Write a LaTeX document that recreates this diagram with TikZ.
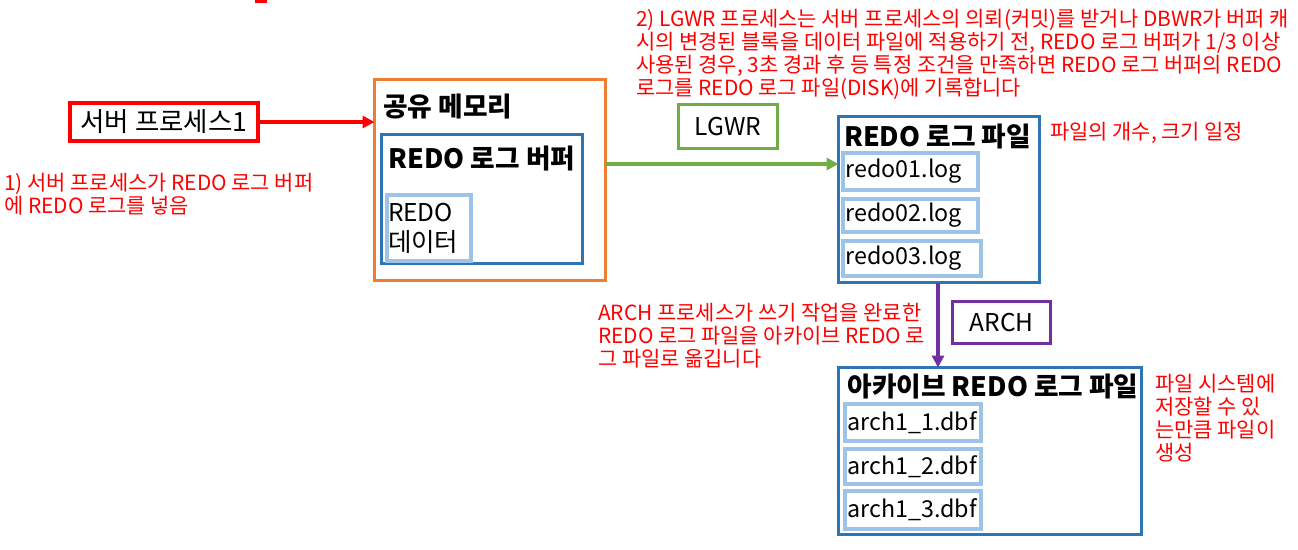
\documentclass[tikz,border=0pt]{standalone}
\usepackage{fontspec}
\setmainfont{Noto Sans CJK KR}
\usetikzlibrary{arrows.meta}
\definecolor{cred}{HTML}{FF0000}
\definecolor{corange}{HTML}{ED7D31}
\definecolor{cblue}{HTML}{2E75B6}
\definecolor{clblue}{HTML}{9DC3E6}
\definecolor{cgreen}{HTML}{70AD47}
\definecolor{cpurple}{HTML}{7030A0}
\begin{document}
\begin{tikzpicture}[x=1pt,y=-1pt,
  box/.style={draw=#1, fill=white, inner sep=0pt, outer sep=0pt},
  boxtext/.style={font=\fontsize{24.5}{30}\selectfont, text=black},
  krtext/.style={font=\fontsize{26.5}{30}\selectfont, text=black},
  fntext/.style={font=\fontsize{23.3}{30}\selectfont, text=black},
  title/.style={font=\fontsize{26.7}{30}\selectfont\bfseries, inner sep=0pt, text=black},
  note/.style={font=\fontsize{20.9}{23}\selectfont, text=cred, inner sep=0pt, align=left},
  filebox/.style={box=clblue, line width=4pt, fntext, inner xsep=2.5pt, align=left},
  arr/.style={line width=4pt, -{Triangle[length=12pt,width=12pt]}}
]
\useasboundingbox (0,0) rectangle (1298,549);
\fill[cred] (255,0) rectangle (267,2.5);

% server process
\node[box=cred, line width=4pt, krtext, minimum width=188pt, minimum height=38pt] (srv) at (164,122) {서버 프로세스1};

% shared memory
\node[box=corange, line width=3pt, minimum width=231pt, minimum height=201pt] (shm) at (490,180) {};
\node[title, anchor=west] (shmt) at (383,107) {공유 메모리};
\node[box=cblue, line width=3pt, minimum width=201pt, minimum height=129pt] (buf) at (482,199) {};
\node[title] (buft) at (482,159) {REDO 로그 버퍼};
\node[box=clblue, line width=4pt, boxtext, minimum width=84pt, minimum height=66pt, text width=82pt, inner xsep=1pt, align=left] (dat) at (429,228) {REDO\\{\fontsize{25.5}{30}\selectfont 데이터}};

% LGWR
\node[box=cgreen, line width=3pt, boxtext, minimum width=99pt, minimum height=44pt] (lgwr) at (728,126.5) {LGWR};

% redo log file
\node[box=cblue, line width=3pt, minimum width=201pt, minimum height=166pt] (rf) at (939,199.5) {};
\node[title] (rft) at (937.5,137) {REDO 로그 파일};
\node[filebox, text width=130pt, minimum height=37pt] (r1) at (910.5,171.5) {redo01.log};
\node[filebox, text width=130pt, minimum height=33pt] (r2) at (910.5,215.5) {redo02.log};
\node[filebox, text width=133pt, minimum height=35pt] (r3) at (912,258.5) {redo03.log};

% ARCH
\node[box=cpurple, line width=3pt, boxtext, minimum width=98pt, minimum height=42pt] (arch) at (1001.5,322.5) {ARCH};

% archive redo log file
\node[box=cblue, line width=3pt, minimum width=303pt, minimum height=167pt] (ar) at (990,451) {};
\node[title] (art) at (993,387) {아카이브 REDO 로그 파일};
\node[filebox, text width=131pt, minimum height=37pt] (a1) at (913,422.5) {arch1\_1.dbf};
\node[filebox, text width=131pt, minimum height=35pt] (a2) at (913,466.5) {arch1\_2.dbf};
\node[filebox, text width=131pt, minimum height=38pt] (a3) at (913,510) {arch1\_3.dbf};

% connectors
\draw[arr, cred] (srv.east) -- (srv.east -| shm.west);
\coordinate (gy) at (0,164);
\draw[arr, cgreen] (gy -| shm.east) -- (gy -| rf.west);
\coordinate (px) at (938,0);
\draw[arr, cpurple] (px |- rf.south) -- (px |- ar.north);

% notes
\node[note, anchor=west] (n1) at (4,194) {1) 서버 프로세스가 REDO 로그 버퍼\\에 REDO 로그를 넣음};
\node[note, anchor=west] (n2) at (636,54) {2) LGWR 프로세스는 서버 프로세스의 의뢰(커밋)를 받거나 DBWR가 버퍼 캐\\시의 변경된 블록을 데이터 파일에 적용하기 전, REDO 로그 버퍼가 1/3 이상\\사용된 경우, 3초 경과 후 등 특정 조건을 만족하면 REDO 로그 버퍼의 REDO\\로그를 REDO 로그 파일(DISK)에 기록합니다};
\node[note, anchor=west] (n3) at (1050,133) {파일의 개수, 크기 일정};
\node[note, anchor=west] (n4) at (598,336) {ARCH 프로세스가 쓰기 작업을 완료한\\REDO 로그 파일을 아카이브 REDO 로\\그 파일로 옮깁니다};
\node[note, anchor=west] (n5) at (1155,418) {파일 시스템에\\저장할 수 있\\는만큼 파일이\\생성};
\end{tikzpicture}
\end{document}
